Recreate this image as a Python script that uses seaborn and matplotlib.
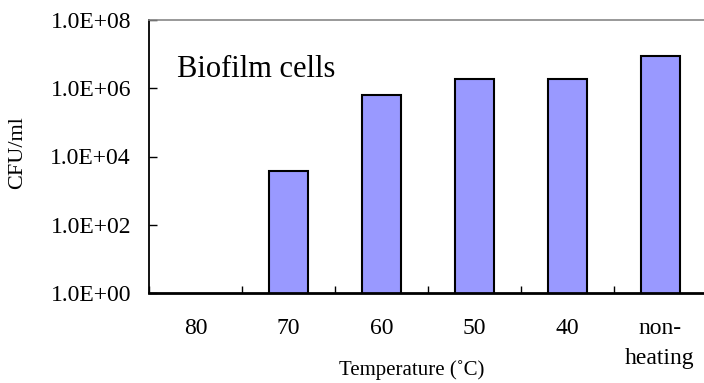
import numpy as np
import pandas as pd
import matplotlib
matplotlib.use("Agg")
import matplotlib.pyplot as plt
import seaborn as sns
from matplotlib.ticker import FixedLocator, FuncFormatter, NullLocator

categories = ["80", "70", "60", "50", "40", "non-\nheating"]
cfu_values = [0, 3.8e3, 6.5e5, 1.85e6, 1.85e6, 9.0e6]
y_ticks = [1e0, 1e2, 1e4, 1e6, 1e8]

sns.set_theme(style="white")
plt.rcParams['font.family'] = ['Liberation Serif', 'DejaVu Serif']
plt.rcParams.update({"text.color": "black", "axes.labelcolor": "black",
                     "xtick.color": "black", "ytick.color": "black"})

df = pd.DataFrame({"Temperature": categories, "CFU": cfu_values})

fig = plt.figure(figsize=(7.04, 3.83), dpi=100)
ax = fig.add_axes([149 / 704, 1 - 293 / 383, 557.5 / 704, 273 / 383])

sns.barplot(data=df, x="Temperature", y="CFU", order=categories, color="#9999FF",
            width=0.42, edgecolor="black", linewidth=1.5, saturation=1, ax=ax)

ax.set_yscale("log")
ax.set_ylim(1e0, 1e8)
ax.set_xlim(-0.5, len(categories) - 0.5)
ax.yaxis.set_major_locator(FixedLocator(y_ticks))
ax.yaxis.set_minor_locator(NullLocator())
ax.yaxis.set_major_formatter(FuncFormatter(lambda v, p: f"{v:.1E}"))

ax.set_xticks(range(len(categories)))
ax.set_xticklabels(categories, linespacing=1.55)
ax.set_xticks(np.arange(-0.5, len(categories), 1.0), minor=True)
ax.tick_params(axis="x", which="major", length=0, pad=18, labelsize=17)
ax.tick_params(axis="x", which="minor", direction="in", length=5, width=1,
               color="black", bottom=True)
ax.tick_params(axis="y", which="major", direction="in", length=6, width=1, color="black",
               pad=13, labelsize=17, left=True)

ax.spines["left"].set_color("black")
ax.spines["left"].set_linewidth(1.3)
ax.spines["bottom"].set_color("black")
ax.spines["bottom"].set_linewidth(2.0)
for s in ["top", "right"]:
    ax.spines[s].set_color("#888888")
    ax.spines[s].set_linewidth(1.2)

ax.set_ylabel("CFU/ml", fontsize=16)
ax.yaxis.set_label_coords(-(149 - 18) / 557.5, (293 - 153) / 273)
ax.set_xlabel("Temperature (˚C)", fontsize=15)
ax.xaxis.set_label_coords((412 - 149) / 557.5, -(370 - 293) / 273)
ax.xaxis.label.set_va("center")
ax.yaxis.label.set_va("center")
ax.text(0.05, 0.82, "Biofilm cells", transform=ax.transAxes, fontsize=22,
        ha="left", va="center")

fig.savefig("out.png", dpi=100)
